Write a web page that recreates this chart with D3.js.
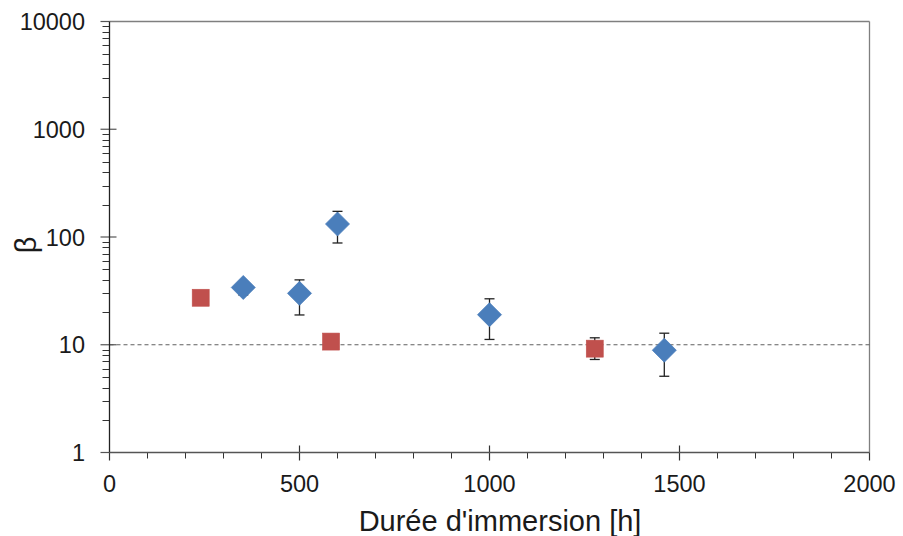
<!DOCTYPE html>
<html><head><meta charset="utf-8">
<script src="https://cdn.jsdelivr.net/npm/d3@7"></script>
<style>body{margin:0;background:#fff}svg{display:block}text{font-family:"Liberation Sans",Arial,sans-serif;fill:#1a1a1a}</style>
</head><body><svg id="c" width="903" height="536"></svg>
<script>
const blueX = [352, 500, 600, 1000, 1460];
const blueY = [34, 30, 132, 19, 8.9];
const blueHi = [38, 40, 173, 26.7, 12.8];
const blueLo = [29, 18.9, 88, 11.2, 5.1];
const redX = [240, 583, 1277];
const redY = [27.3, 10.7, 9.2];
const redHi = [null, null, 11.6];
const redLo = [null, null, 7.3];
const xTicks = [0, 500, 1000, 1500, 2000];
const yTicks = [1, 10, 100, 1000, 10000];
const refLine = 10;

const svg = d3.select("#c");
const L = 109.5, R = 869.5, T = 21.5, B = 452.5;
const x = d3.scaleLinear().domain([0, 2000]).range([L, R]);
const y = d3.scaleLog().domain([1, 10000]).range([B, T]);

// frame top/right
svg.append("line").attr("x1", L).attr("x2", R).attr("y1", T).attr("y2", T).attr("stroke", "#7f7f7f").attr("stroke-width", 1.3);
svg.append("line").attr("x1", R).attr("x2", R).attr("y1", T).attr("y2", B).attr("stroke", "#7f7f7f").attr("stroke-width", 1.3);

// reference dashed line
svg.append("line").attr("x1", L).attr("x2", R).attr("y1", y(refLine)).attr("y2", y(refLine))
  .attr("stroke", "#606060").attr("stroke-width", 1.2).attr("stroke-dasharray", "4,3");

// y minor ticks
const minor = [];
for (let d = 1; d < 10000; d *= 10) for (let k = 2; k <= 9; k++) minor.push(d * k);
svg.append("g").selectAll("line").data(minor).join("line")
  .attr("x1", L - 7).attr("x2", L).attr("y1", d => Math.round(y(d)) + 0.5).attr("y2", d => Math.round(y(d)) + 0.5)
  .attr("stroke", "#333").attr("stroke-width", 1);
// y major ticks
svg.append("g").selectAll("line").data(yTicks).join("line")
  .attr("x1", L - 9).attr("x2", d => (d === 1 || d === 10000) ? L : L + 7)
  .attr("y1", d => y(d)).attr("y2", d => y(d)).attr("stroke", "#555").attr("stroke-width", 1.2);
svg.append("g").selectAll("text").data(yTicks).join("text")
  .attr("x", 85).attr("y", d => y(d) + 8.5).attr("text-anchor", "end").attr("font-size", 23.5).text(d => d);

// x minor ticks
const xMinor = d3.range(100, 2000, 100).filter(v => v % 500 !== 0);
svg.append("g").selectAll("line").data(xMinor).join("line")
  .attr("x1", d => x(d)).attr("x2", d => x(d)).attr("y1", B).attr("y2", B + 6).attr("stroke", "#333").attr("stroke-width", 1);
svg.append("g").selectAll("line").data(xTicks).join("line")
  .attr("x1", d => x(d)).attr("x2", d => x(d)).attr("y1", d => (d === 0 || d === 2000) ? B : B - 7).attr("y2", B + 8)
  .attr("stroke", "#333").attr("stroke-width", 1.2);
svg.append("g").selectAll("text").data(xTicks).join("text")
  .attr("x", d => x(d)).attr("y", 492).attr("text-anchor", "middle").attr("font-size", 23.5).text(d => d);

// axes lines
svg.append("line").attr("x1", L).attr("x2", L).attr("y1", T).attr("y2", B).attr("stroke", "#222").attr("stroke-width", 1.3);
svg.append("line").attr("x1", L).attr("x2", R).attr("y1", B).attr("y2", B).attr("stroke", "#555").attr("stroke-width", 1.3);

// titles
svg.append("text").attr("x", 500).attr("y", 531).attr("text-anchor", "middle").attr("font-size", 29).text("Durée d'immersion [h]");
svg.append("text").attr("transform", "translate(36,245) rotate(-90)").attr("text-anchor", "middle").attr("font-size", 29).text("β");

// error bars
function errBars(xs, hi, lo) {
  const g = svg.append("g").attr("stroke", "#222").attr("stroke-width", 1.3);
  xs.forEach((v, i) => {
    if (hi[i] == null) return;
    g.append("line").attr("x1", x(v)).attr("x2", x(v)).attr("y1", y(hi[i])).attr("y2", y(lo[i]));
    [hi[i], lo[i]].forEach(e => g.append("line").attr("x1", x(v) - 5).attr("x2", x(v) + 5).attr("y1", y(e)).attr("y2", y(e)));
  });
}
errBars(blueX, blueHi, blueLo);
errBars(redX, redHi, redLo);

// markers
svg.append("g").selectAll("path").data(blueX).join("path")
  .attr("d", (d, i) => { const cx = x(d), cy = y(blueY[i]), r = 12; return `M${cx},${cy - r}L${cx + r},${cy}L${cx},${cy + r}L${cx - r},${cy}Z`; })
  .attr("fill", "#4a7ebb").attr("stroke", "#4a7ebb").attr("stroke-width", 0.8);
svg.append("g").selectAll("rect").data(redX).join("rect")
  .attr("x", d => x(d) - 8.5).attr("y", (d, i) => y(redY[i]) - 8.5).attr("width", 17).attr("height", 17)
  .attr("fill", "#c0504d").attr("stroke", "#c0504d").attr("stroke-width", 0.6);
</script></body></html>
